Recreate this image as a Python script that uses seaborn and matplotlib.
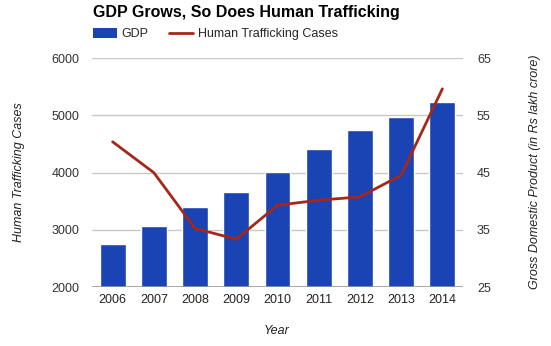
import matplotlib
matplotlib.use("Agg")
import matplotlib.pyplot as plt
import seaborn as sns
import numpy as np
import pandas as pd
from matplotlib.patches import Patch
from matplotlib.lines import Line2D

years = ["2006", "2007", "2008", "2009", "2010", "2011", "2012", "2013", "2014"]
gdp = [32.5, 35.6, 39.0, 41.6, 45.1, 49.1, 52.4, 54.7, 57.3]
cases = [4540, 4000, 3025, 2835, 3430, 3518, 3576, 3956, 5466]
left_ticks = [2000, 3000, 4000, 5000, 6000]
right_ticks = [25, 35, 45, 55, 65]

BAR = "#1a43b4"
LINE = "#a4281a"

sns.set_theme(style="white")
plt.rcParams["font.family"] = ["Liberation Sans", "DejaVu Sans"]

df = pd.DataFrame({"Year": years, "GDP": gdp, "Cases": cases})

fig = plt.figure(figsize=(5.51, 3.46), dpi=100)
ax = fig.add_axes([92/551, 1-287/346, (463-92)/551, (287-58.3)/346])

sns.barplot(data=df, x="Year", y="GDP", color=BAR, width=0.63, ax=ax,
            saturation=1, zorder=2)
ax.set_ylim(right_ticks[0], right_ticks[-1])
ax.set_yticks(right_ticks)
ax.set_xlim(-0.5, len(years) - 0.5)
for t in right_ticks[1:]:
    ax.axhline(t, color="#c8c8c8", lw=1, zorder=0)
ax.axhline(right_ticks[0], color="#999999", lw=1.2, zorder=3)
ax.set_xlabel("")
ax.set_ylabel("")
for s in ax.spines.values():
    s.set_visible(False)

ax2 = ax.twinx()
sns.lineplot(x=np.arange(len(years)), y=cases, color=LINE, lw=2, ax=ax2)
ax2.set_ylim(left_ticks[0], left_ticks[-1])
ax2.set_yticks(left_ticks)
ax2.set_ylabel("")
for s in ax2.spines.values():
    s.set_visible(False)

# left axis: trafficking cases (line), right axis: GDP (bars)
ax2.yaxis.set_ticks_position("left")
ax2.tick_params(axis="y", which="both", left=True, right=False,
                labelleft=True, labelright=False, length=0, pad=9,
                labelsize=9, labelcolor="#333333")
ax.tick_params(axis="y", which="both", left=False, right=True,
               labelleft=False, labelright=True, length=0, pad=10,
               labelsize=9, labelcolor="#333333")
ax.tick_params(axis="x", length=0, pad=5, labelsize=9, labelcolor="#222222")

fig.text(93/551, 1-13/346, "GDP Grows, So Does Human Trafficking",
         fontsize=11.5, fontweight="bold", va="center", ha="left", color="#000000")

handles = [Patch(facecolor=BAR, edgecolor="none"),
           Line2D([0], [0], color=LINE, lw=2)]
fig.legend(handles, ["GDP", "Human Trafficking Cases"], loc="center left",
           bbox_to_anchor=(93/551, 1-34/346), ncol=2, frameon=False,
           fontsize=9, handlelength=1.9, handleheight=0.9, columnspacing=1.6,
           handletextpad=0.4, borderaxespad=0, borderpad=0)

fig.text(19/551, 1-172/346, "Human Trafficking Cases", rotation=90,
         fontsize=9, style="italic", va="center", ha="center", color="#222222")
fig.text(535/551, 1-172/346, "Gross Domestic Product (in Rs lakh crore)", rotation=90,
         fontsize=9, style="italic", va="center", ha="center", color="#222222")
fig.text(277/551, 1-331/346, "Year", fontsize=9, style="italic",
         va="center", ha="center", color="#222222")

fig.savefig("out.png", dpi=100)
